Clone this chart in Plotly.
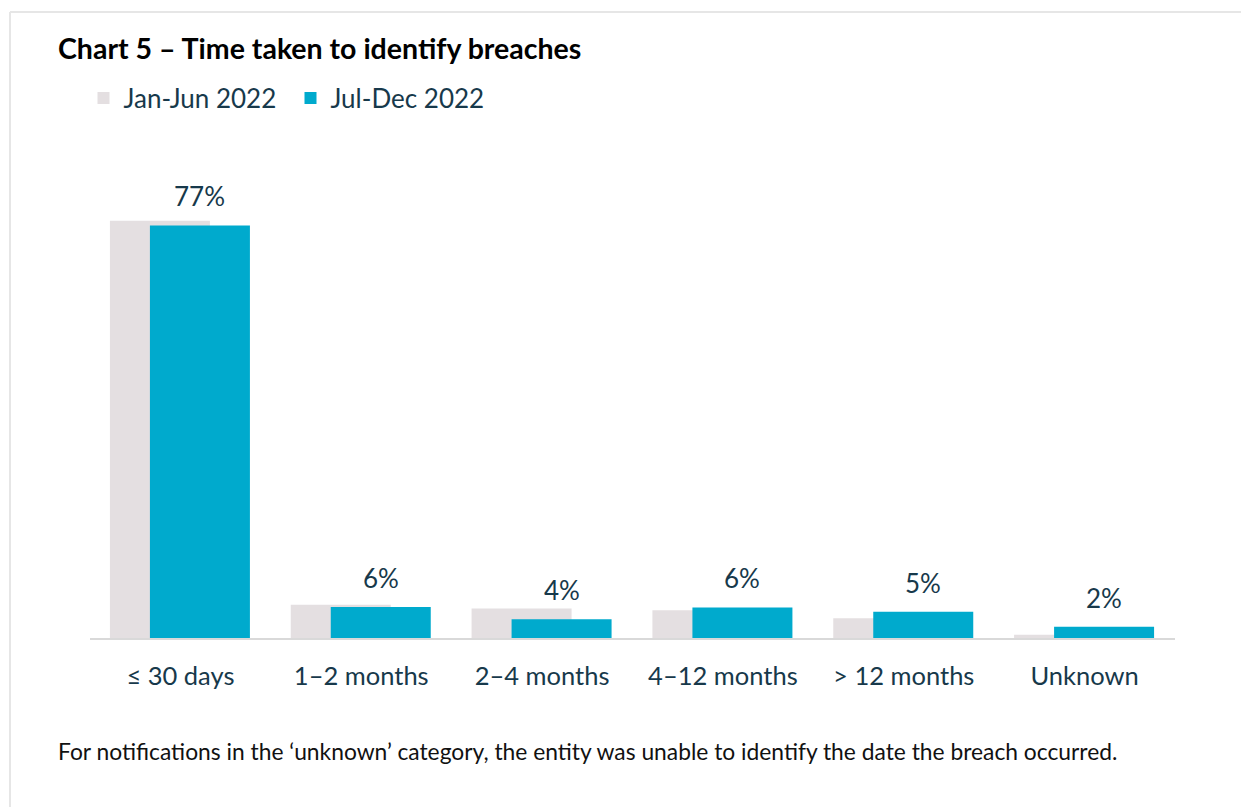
import plotly.graph_objects as go

W, H = 1241, 807

categories = ["≤ 30 days", "1–2 months", "2–4 months", "4–12 months", "> 12 months", "Unknown"]
jan_jun_2022 = [77.9, 6.2, 5.5, 5.2, 3.7, 0.6]
jul_dec_2022 = [77.0, 5.8, 3.5, 5.7, 4.9, 2.1]
jul_dec_labels = ["77%", "6%", "4%", "6%", "5%", "2%"]

GREY = "#e4dfe1"
TEAL = "#00aacd"
NAVY = "#17394b"
FONT = "Lato"

# layout geometry (pixels)
x_left, x_right = 90, 1175
y_base, y_top = 638, 209.4
slot = (x_right - x_left) / len(categories)
bar_w = 100 / slot
grey_off = -70.5 / slot
teal_off = -30.5 / slot

xs = list(range(len(categories)))

fig = go.Figure()
fig.add_trace(go.Bar(
    x=xs, y=jan_jun_2022, name="Jan-Jun 2022",
    marker=dict(color=GREY, line=dict(width=0)),
    width=bar_w, offset=grey_off, hoverinfo="skip",
))
fig.add_trace(go.Bar(
    x=xs, y=jul_dec_2022, name="Jul-Dec 2022",
    marker=dict(color=TEAL, line=dict(width=0)),
    width=bar_w, offset=teal_off, hoverinfo="skip",
))

for i, (v, lab) in enumerate(zip(jul_dec_2022, jul_dec_labels)):
    fig.add_annotation(
        x=i + teal_off + bar_w / 2, y=v, xref="x", yref="y",
        text=lab, showarrow=False, yanchor="bottom", yshift=11,
        font=dict(family=FONT, size=26, color=NAVY),
    )

# title
fig.add_annotation(
    x=56 / W, y=1 - 48 / H, xref="paper", yref="paper",
    xanchor="left", yanchor="middle",
    text="<b>Chart 5 – Time taken to identify breaches</b>", showarrow=False,
    font=dict(family=FONT, size=28.5, color="#000000"),
)
# footnote
fig.add_annotation(
    x=56 / W, y=1 - 751 / H, xref="paper", yref="paper",
    xanchor="left", yanchor="middle",
    text="For notifications in the ‘unknown’ category, the entity was unable to identify the date the breach occurred.",
    showarrow=False,
    font=dict(family=FONT, size=22.8, color="#111111"),
)

# frame
fig.add_shape(type="line", xref="paper", yref="paper",
              x0=10 / W, x1=1, y0=1 - 12 / H, y1=1 - 12 / H,
              line=dict(color="#e6e6e6", width=2))
fig.add_shape(type="line", xref="paper", yref="paper",
              x0=10 / W, x1=10 / W, y0=0, y1=1 - 12 / H,
              line=dict(color="#e6e6e6", width=2))

fig.update_layout(
    width=W, height=H,
    margin=dict(l=0, r=0, t=0, b=0),
    paper_bgcolor="white", plot_bgcolor="white",
    barmode="overlay",
    showlegend=True,
    legend=dict(
        orientation="h", x=83.5 / W, y=1 - 98 / H, xanchor="left", yanchor="middle",
        font=dict(family=FONT, size=26, color=NAVY),
        itemclick=False, itemdoubleclick=False,
        entrywidth=162, entrywidthmode="pixels",
    ),
    xaxis=dict(
        domain=[x_left / W, x_right / W],
        range=[-0.5, len(categories) - 0.5],
        tickmode="array", tickvals=xs, ticktext=categories,
        tickfont=dict(family=FONT, size=25.5, color=NAVY),
        showline=True, linecolor="#d9d9d9", linewidth=2,
        showgrid=False, zeroline=False, ticks="",
        ticklabelstandoff=14, fixedrange=True,
    ),
    yaxis=dict(
        domain=[1 - y_base / H, 1 - y_top / H],
        range=[0, 80],
        visible=False, showgrid=False, zeroline=False, fixedrange=True,
    ),
)

fig.write_html("out.html")
